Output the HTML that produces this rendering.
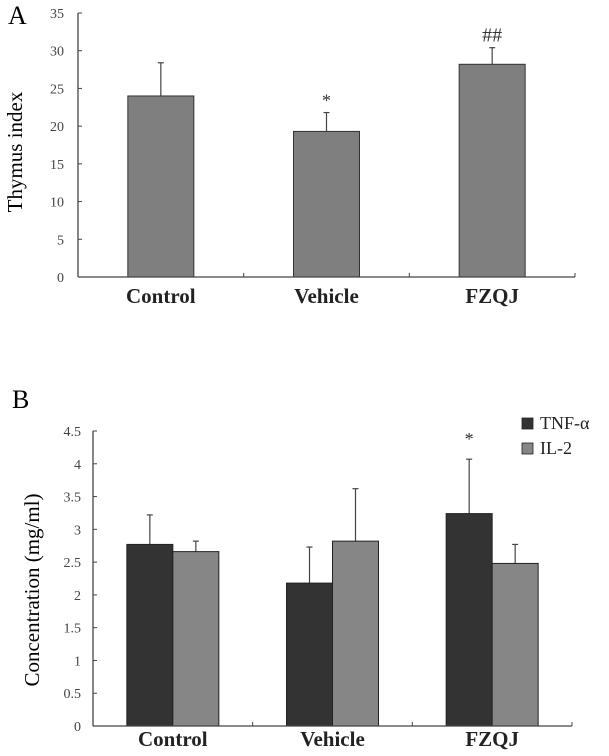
<!DOCTYPE html>
<html><head><meta charset="utf-8"><style>
html,body{margin:0;padding:0;background:#fff;}
svg{display:block;font-family:"Liberation Serif",serif;}
</style></head><body>
<svg id="fig" width="609" height="756" viewBox="0 0 609 756">
<g id="panelA"></g>
<g id="panelB"></g>
</svg>
<script>
const catsA = ["Control","Vehicle","FZQJ"];
const valsA = [24.0, 19.3, 28.2];
const errA = [28.4, 21.8, 30.4];
const marksA = ["", "*", "##"];
const ticksA = [0,5,10,15,20,25,30,35];

const catsB = ["Control","Vehicle","FZQJ"];
const tnf = [2.77, 2.18, 3.24];
const tnfErr = [3.22, 2.73, 4.07];
const il2 = [2.66, 2.82, 2.48];
const il2Err = [2.82, 3.62, 2.77];
const marksB = ["", "", "*"];
const ticksB = [0,0.5,1,1.5,2,2.5,3,3.5,4,4.5];
const seriesNames = ["TNF-α","IL-2"];

const NS="http://www.w3.org/2000/svg";
function mk(parent, tag, attrs, text){
  const e=document.createElementNS(NS,tag);
  for(const k in attrs) e.setAttribute(k,attrs[k]);
  if(text!==undefined) e.textContent=text;
  parent.appendChild(e); return e;
}

/* Panel A */
(function(){
  const g=document.getElementById('panelA');
  const x0=78,x1=575,y0=277,yTop=13,max=35;
  const y=v=>y0-(v/max)*(y0-yTop);
  const cw=(x1-x0)/catsA.length;
  const bw=66;
  let t=mk(g,'text',{x:8,y:24,'font-size':26},'A');
   
  let yt=mk(g,'text',{x:0,y:0,'font-size':21,'text-anchor':'middle',transform:'translate(22,152) rotate(-90)'},'Thymus index');
   
  ticksA.forEach(v=>{
    const l=mk(g,'text',{x:64,y:y(v)+5,'font-size':14,'text-anchor':'end',fill:'#444'},String(v));
     
    mk(g,'line',{x1:x0,x2:x0+4,y1:y(v),y2:y(v),stroke:'#444','stroke-width':1});
  });
  catsA.forEach((c,i)=>{
    const cx=x0+cw*(i+0.5);
    const eb=mk(g,'line',{x1:cx,x2:cx,y1:y(valsA[i]),y2:y(errA[i]),stroke:'#444','stroke-width':1.2});
     
    mk(g,'line',{x1:cx-3,x2:cx+3,y1:y(errA[i]),y2:y(errA[i]),stroke:'#444','stroke-width':1.2});
    const r=mk(g,'rect',{x:cx-bw/2,y:y(valsA[i]),width:bw,height:y0-y(valsA[i]),fill:'#7f7f7f',stroke:'#333','stroke-width':1});
     
    const lab=mk(g,'text',{x:cx,y:303,'font-size':21,'font-weight':'bold','text-anchor':'middle',fill:'#222'},c);
     
    if(marksA[i]){
      const m=mk(g,'text',{x:cx,y:y(errA[i])-(marksA[i]=='*'?6:6),'font-size':marksA[i]=='*'?18:20,'text-anchor':'middle',fill:'#333'},marksA[i]);
       
    }
    if(i>0) mk(g,'line',{x1:x0+cw*i,x2:x0+cw*i,y1:y0,y2:y0-4,stroke:'#444'});
  });
  mk(g,'line',{x1:x0,x2:x1,y1:y0,y2:y0,stroke:'#444','stroke-width':1.3});
  mk(g,'line',{x1:x1,x2:x1,y1:y0,y2:y0-4,stroke:'#444'});
  mk(g,'line',{x1:x0,x2:x0,y1:y0,y2:yTop,stroke:'#444','stroke-width':1.3});
})();

/* Panel B */
(function(){
  const g=document.getElementById('panelB');
  const x0=93,x1=572,y0=726,yTop=431,max=4.5;
  const y=v=>y0-(v/max)*(y0-yTop);
  const cw=(x1-x0)/catsB.length;
  const bw=46;
  let t=mk(g,'text',{x:12,y:408,'font-size':26},'B');
   
  let yt=mk(g,'text',{x:0,y:0,'font-size':21,'text-anchor':'middle',transform:'translate(39,590) rotate(-90)'},'Concentration (mg/ml)');
   
  ticksB.forEach(v=>{
    const l=mk(g,'text',{x:81,y:y(v)+5,'font-size':14,'text-anchor':'end',fill:'#444'},String(v));
     
    mk(g,'line',{x1:x0,x2:x0+4,y1:y(v),y2:y(v),stroke:'#444'});
  });
  const series=[[tnf,tnfErr,'#333333'],[il2,il2Err,'#868686']];
  catsB.forEach((c,i)=>{
    const cx=x0+cw*(i+0.5);
    series.forEach((s,k)=>{
      const bx=cx-bw+k*bw, mx=bx+bw/2;
      const v=s[0][i], e=s[1][i];
      const eb=mk(g,'line',{x1:mx,x2:mx,y1:y(v),y2:y(e),stroke:'#444','stroke-width':1.2});
       
      mk(g,'line',{x1:mx-3,x2:mx+3,y1:y(e),y2:y(e),stroke:'#444','stroke-width':1.2});
      const r=mk(g,'rect',{x:bx,y:y(v),width:bw,height:y0-y(v),fill:s[2],stroke:'#222','stroke-width':1});
       
    });
    if(marksB[i]){
      const m=mk(g,'text',{x:cx-bw/2,y:y(tnfErr[i])-14,'font-size':18,'text-anchor':'middle',fill:'#333'},marksB[i]);
       
    }
    const lab=mk(g,'text',{x:cx,y:746,'font-size':21,'font-weight':'bold','text-anchor':'middle',fill:'#222'},c);
     
    if(i>0) mk(g,'line',{x1:x0+cw*i,x2:x0+cw*i,y1:y0,y2:y0-4,stroke:'#444'});
  });
  mk(g,'line',{x1:x0,x2:x1,y1:y0,y2:y0,stroke:'#444','stroke-width':1.3});
  mk(g,'line',{x1:x1,x2:x1,y1:y0,y2:y0-4,stroke:'#444'});
  mk(g,'line',{x1:x0,x2:x0,y1:y0,y2:yTop,stroke:'#444','stroke-width':1.3});
  const lg=mk(g,'g',{});
   
  seriesNames.forEach((n,k)=>{
    const yy=418+k*25;
    const sw=mk(lg,'rect',{x:522,y:yy,width:11,height:11,fill:series[k][2],stroke:'#222','stroke-width':0.8});
     
    const tx=mk(lg,'text',{x:540,y:yy+11,'font-size':18,fill:'#222'},n);
     
  });
})();
</script>
</body></html>
